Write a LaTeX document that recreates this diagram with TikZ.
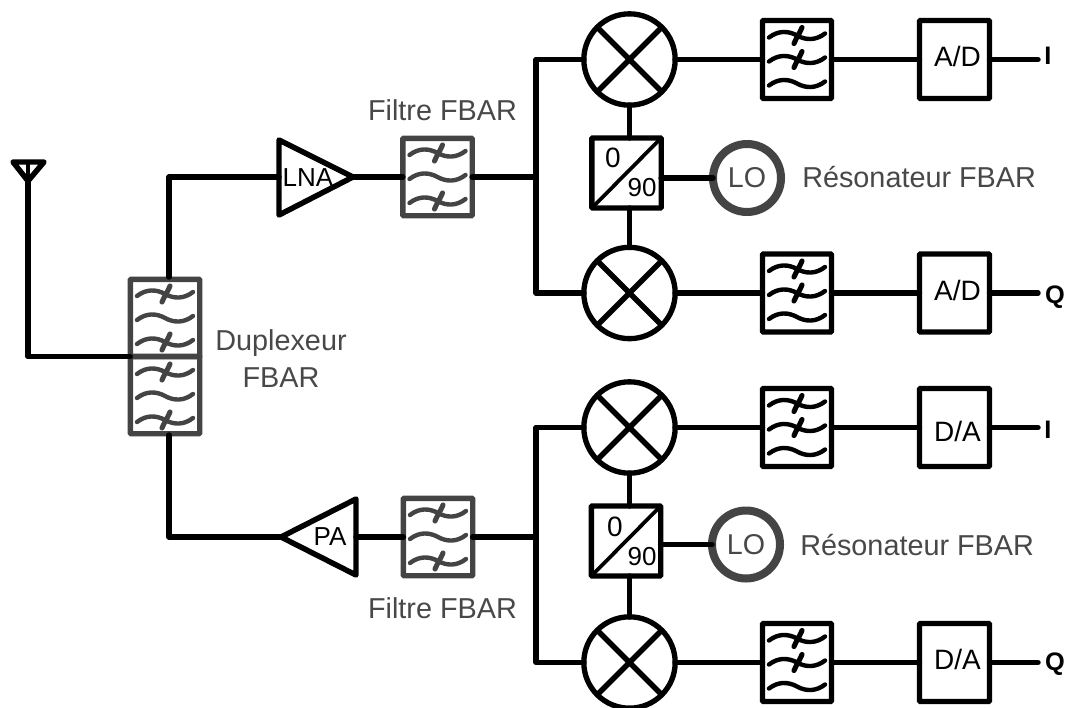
\documentclass[tikz,border=0pt]{standalone}
\usepackage{fontspec}
\setmainfont{Liberation Sans}
\definecolor{fbargray}{HTML}{444444}
\definecolor{txtgray}{HTML}{484848}
\tikzset{
  x=0.75pt,y=-0.75pt,
  wire/.style={line width=4.1pt,line cap=round,line join=round,black},
  boxbase/.style={rectangle,draw,line width=4pt,outer sep=0pt,inner sep=0pt,rounded corners=0.6pt},
  filterbox/.style={boxbase,minimum width=51.75pt,minimum height=58.5pt},
  rfbox/.style={boxbase,draw=fbargray,minimum width=52pt,minimum height=58pt},
  convbox/.style={boxbase,minimum width=52.5pt,minimum height=58.5pt},
  splitbox/.style={boxbase,minimum width=52pt,minimum height=52.5pt},
  mixer/.style={circle,draw,line width=4pt,minimum size=68.5pt,inner sep=0pt,outer sep=0pt},
  lo/.style={circle,draw=fbargray,line width=6pt,minimum size=51pt,inner sep=0pt,outer sep=0pt,font=\fontsize{21.5}{24}\selectfont,text=txtgray},
  graylabel/.style={text=txtgray,font=\fontsize{21.6}{28}\selectfont,inner sep=0pt,align=center},
  convtext/.style={font=\fontsize{21}{24}\selectfont,inner sep=0pt},
  sidelabel/.style={font=\bfseries\fontsize{19}{22}\selectfont,inner sep=0pt},
  splittext/.style={font=\fontsize{19.5}{22}\selectfont,inner sep=0pt},
  zerotext/.style={font=\fontsize{21}{24}\selectfont,inner sep=0pt},
  amptext/.style={font=\fontsize{19.5}{22}\selectfont,inner sep=0pt},
  wv/.style={line width=3.3pt,line cap=round},
  pics/wavy/.style={code={
    \draw[wv] (-28,2) .. controls (-19,-5) and (-9,-5) .. (0,0) .. controls (9,5) and (19,5) .. (28,-2);
  }},
  pics/wavystrike/.style={code={
    \draw[wv] (-28,2) .. controls (-19,-5) and (-9,-5) .. (0,0) .. controls (9,5) and (19,5) .. (28,-2);
    \draw[line width=3.8pt,line cap=round] (5,-8) .. controls (3,-3) and (-1,3) .. (-3,8);
  }},
  pics/wavesrf/.style={code={
    \pic[fbargray] at (0,-24) {wavystrike};
    \pic[fbargray] at (0,0) {wavy};
    \pic[fbargray] at (0,24) {wavystrike};
  }},
  pics/wavesbb/.style={code={
    \pic at (0,-24) {wavystrike};
    \pic at (0,0) {wavystrike};
    \pic at (0,24) {wavy};
  }}
}
\begin{document}
\begin{tikzpicture}
\useasboundingbox (0,0) rectangle (1070,707);

% antenna
\coordinate (antTop) at (28,162);
\coordinate (antTip) at (28,181);
\coordinate (antL) at (13,162);
\coordinate (antR) at (44,162);
\draw[wire] (antL) -- (antR) -- (antTip) -- cycle;
\draw[line width=3.4pt] (antTop) -- (antTip);

% duplexer
\node[rfbox] (dupA) at (165,318) {};
\node[rfbox] (dupB) at (165,395) {};
\pic at (165,318) {wavesrf};
\pic at (165,396) {wavesrf};
\node[graylabel] (dupLab) at (281,358.5) {Duplexeur\\FBAR};
\draw[wire] (antTip) -- (antTip |- dupA.south west) -- (dupA.south west);

% ---- upper chain
\coordinate (lnaA) at (279,140);
\coordinate (lnaB) at (279,215);
\coordinate (lnaIn) at (279,177);
\coordinate (lnaOut) at (353,177);
\draw[wire] (lnaA) -- (lnaOut) -- (lnaB) -- cycle;
\node[amptext] (lnaT) at (308,178) {LNA};
\draw[wire] (169,277) -- (169,177) -- (lnaIn);

\node[rfbox] (f1) at (437.5,177) {};
\pic at (437.5,177) {wavesrf};
\node[graylabel] (f1lab) at (442.5,110) {Filtre FBAR};
\draw[wire] (lnaOut) -- (f1);

\node[mixer] (m1) at (629.5,59.5) {};
\node[mixer] (m2) at (629.5,293) {};
\draw[line width=4pt] (m1.north west) -- (m1.south east) (m1.north east) -- (m1.south west);
\draw[line width=4pt] (m2.north west) -- (m2.south east) (m2.north east) -- (m2.south west);
\draw[wire] (f1.east) -- (536,177);
\draw[wire] (m1.west) -- (536,59.5) -- (536,293) -- (m2.west);

\node[splitbox] (s1) at (626.5,173) {};
\draw[line width=2.8pt] (s1.south west) -- (s1.north east);
\node[zerotext] (s1a) at (613,158) {0};
\node[splittext] (s1b) at (642,187.5) {90};
\draw[wire] (m1.south) -- (m1.south |- s1.north);
\draw[wire] (m2.north) -- (m2.north |- s1.south);
\node[lo] (lo1) at (747,178) {LO};
\draw[wire] (s1.east |- lo1.west) -- (lo1.west);
\node[graylabel,anchor=west] (r1) at (802,177) {Résonateur FBAR};

\node[filterbox] (bf1) at (797,59.5) {};
\pic at (797,59.5) {wavesbb};
\node[convbox] (c1) at (954.5,59.5) {};
\node[convtext] (c1t) at (957.5,56) {A/D};
\coordinate (o1) at (1038,59.5);
\node[sidelabel] (l1) at (1048,56) {I};
\draw[wire] (m1.east) -- (bf1.west);
\draw[wire] (bf1.east) -- (c1.west);
\draw[wire] (c1.east) -- (o1);

\node[filterbox] (bf2) at (797,293) {};
\pic at (797,293) {wavesbb};
\node[convbox] (c2) at (954.5,293) {};
\node[convtext] (c2t) at (957.5,290) {A/D};
\coordinate (o2) at (1038,293);
\node[sidelabel] (l2) at (1055,297) {Q};
\draw[wire] (m2.east) -- (bf2.west);
\draw[wire] (bf2.east) -- (c2.west);
\draw[wire] (c2.east) -- (o2);

% ---- lower chain
\coordinate (paA) at (356,499);
\coordinate (paB) at (356,575);
\coordinate (paIn) at (356,537);
\coordinate (paOut) at (281,537);
\draw[wire] (paA) -- (paOut) -- (paB) -- cycle;
\node[amptext] (paT) at (330,537) {PA};
\draw[wire] (169,435) -- (169,537) -- (paOut);

\node[rfbox] (f2) at (438,537) {};
\pic at (438,537) {wavesrf};
\node[graylabel] (f2lab) at (442.5,608) {Filtre FBAR};
\draw[wire] (paIn) -- (f2);

\node[mixer] (m3) at (629.5,427.5) {};
\node[mixer] (m4) at (629.5,662.5) {};
\draw[line width=4pt] (m3.north west) -- (m3.south east) (m3.north east) -- (m3.south west);
\draw[line width=4pt] (m4.north west) -- (m4.south east) (m4.north east) -- (m4.south west);
\draw[wire] (f2.east) -- (536,537);
\draw[wire] (m3.west) -- (536,427.5) -- (536,662.5) -- (m4.west);

\node[splitbox] (s2) at (626,541) {};
\draw[line width=2.8pt] (s2.south west) -- (s2.north east);
\node[zerotext] (s2a) at (615,527) {0};
\node[splittext] (s2b) at (642,557) {90};
\draw[wire] (m3.south) -- (m3.south |- s2.north);
\draw[wire] (m4.north) -- (m4.north |- s2.south);
\node[lo] (lo2) at (746,544.5) {LO};
\draw[wire] (s2.east |- lo2.west) -- (lo2.west);
\node[graylabel,anchor=west] (r2) at (800,545) {Résonateur FBAR};

\node[filterbox] (bf3) at (797,427.5) {};
\pic at (797,427.5) {wavesbb};
\node[convbox] (c3) at (954.5,427.5) {};
\node[convtext] (c3t) at (957.5,431) {D/A};
\coordinate (o3) at (1038,427.5);
\node[sidelabel] (l3) at (1048,430) {I};
\draw[wire] (m3.east) -- (bf3.west);
\draw[wire] (bf3.east) -- (c3.west);
\draw[wire] (c3.east) -- (o3);

\node[filterbox] (bf4) at (797,662.5) {};
\pic at (797,662.5) {wavesbb};
\node[convbox] (c4) at (954.5,662.5) {};
\node[convtext] (c4t) at (957.5,659.5) {D/A};
\coordinate (o4) at (1038,662.5);
\node[sidelabel] (l4) at (1055,664) {Q};
\draw[wire] (m4.east) -- (bf4.west);
\draw[wire] (bf4.east) -- (c4.west);
\draw[wire] (c4.east) -- (o4);
\end{tikzpicture}
\end{document}
